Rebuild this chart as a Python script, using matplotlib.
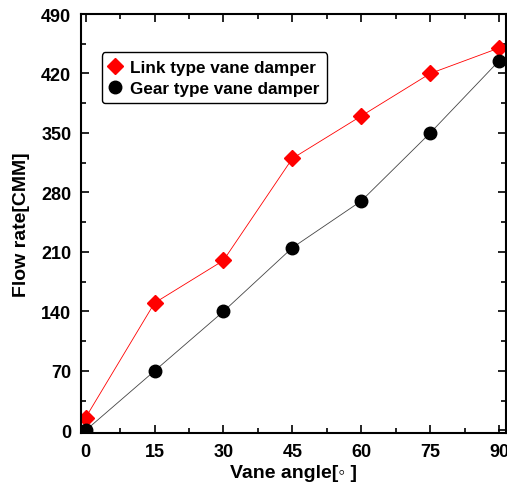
import matplotlib.pyplot as plt
from matplotlib.ticker import MultipleLocator

# Дані з графіка
angles = [0, 15, 30, 45, 60, 75, 90]
link_flow = [15, 150, 200, 320, 370, 420, 450]
gear_flow = [0, 70, 140, 215, 270, 350, 435]

plt.rcParams['font.family'] = ['Liberation Sans', 'DejaVu Sans']
plt.rcParams['font.weight'] = 'bold'

fig = plt.figure(figsize=(5.07, 4.85), dpi=100)
ax = fig.add_axes([81 / 507, 51 / 485, 425 / 507, 419 / 485])

ax.plot(angles, link_flow, color='red', lw=0.6, marker='D', ms=8,
        mec='red', mfc='red', label='Link type vane damper')
ax.plot(angles, gear_flow, color='#444444', lw=0.6, marker='o', ms=9,
        mec='black', mfc='black', label='Gear type vane damper')

ax.set_xlim(-1, 91.5)
ax.set_ylim(-3, 490)
ax.xaxis.set_major_locator(MultipleLocator(15))
ax.xaxis.set_minor_locator(MultipleLocator(7.5))
ax.yaxis.set_major_locator(MultipleLocator(70))
ax.yaxis.set_minor_locator(MultipleLocator(35))
ax.tick_params(which='both', direction='in', top=True, right=True, width=1.2)
ax.tick_params(which='major', length=6, labelsize=13, pad=7)
ax.tick_params(which='minor', length=3.5)
for s in ax.spines.values():
    s.set_linewidth(1.5)

ax.set_xlabel('Vane angle[◦ ]', fontsize=14, fontweight='bold', labelpad=3)
ax.set_ylabel('Flow rate[CMM]', fontsize=14, fontweight='bold', labelpad=8)

leg = ax.legend(loc='upper left', bbox_to_anchor=(0.049, 0.909), fontsize=12.3,
                handlelength=0.7, handletextpad=0.5, borderpad=0.45,
                labelspacing=0.35, fancybox=True, framealpha=1,
                edgecolor='black', borderaxespad=0)
leg.get_frame().set_linewidth(1.0)
for t in leg.get_texts():
    t.set_fontweight('bold')

fig.savefig('out.png', dpi=100)
